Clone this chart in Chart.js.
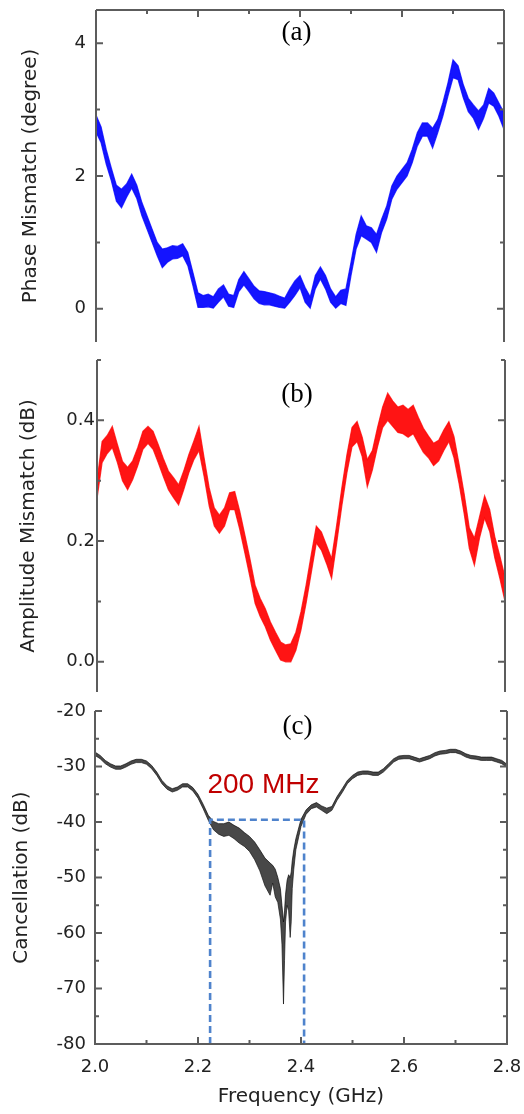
<!DOCTYPE html>
<html lang="en">
<head>
<meta charset="UTF-8">
<title>Phase / amplitude mismatch and cancellation</title>
<script src="https://cdn.jsdelivr.net/npm/chart.js"></script>
<style>
  body { margin: 0; background: #fff; }
  .stack { position: relative; width: 524px; height: 1114px; }
  .stack canvas { position: absolute; left: 0; }
  #phaseChart { top: 0; }
  #ampChart { top: 350px; }
  #cancelChart { top: 700px; }
</style>
</head>
<body>
<div class="stack">
  <canvas id="phaseChart" width="524" height="350"></canvas>
  <canvas id="ampChart" width="524" height="350"></canvas>
  <canvas id="cancelChart" width="524" height="414"></canvas>
</div>

<script>
// frequency grid (GHz) shared by panels (a) and (b)
const freq = [
  2.00, 2.01, 2.02, 2.03, 2.04, 2.05, 2.06, 2.07, 2.08, 2.09,
  2.10, 2.11, 2.12, 2.13, 2.14, 2.15, 2.16, 2.17, 2.18, 2.19,
  2.20, 2.21, 2.22, 2.23, 2.24, 2.25, 2.26, 2.27, 2.28, 2.29,
  2.30, 2.31, 2.32, 2.33, 2.34, 2.35, 2.36, 2.37, 2.38, 2.39,
  2.40, 2.41, 2.42, 2.43, 2.44, 2.45, 2.46, 2.47, 2.48, 2.49,
  2.50, 2.51, 2.52, 2.53, 2.54, 2.55, 2.56, 2.57, 2.58, 2.59,
  2.60, 2.61, 2.62, 2.63, 2.64, 2.65, 2.66, 2.67, 2.68, 2.69,
  2.70, 2.71, 2.72, 2.73, 2.74, 2.75, 2.76, 2.77, 2.78, 2.79,
  2.80
];

// (a) phase mismatch, upper / lower edge of the noisy trace (degree)
const phaseHi = [
  2.92, 2.74, 2.40, 2.12, 1.86, 1.80, 1.88, 2.03, 1.86, 1.60,
  1.40, 1.20, 1.00, 0.90, 0.92, 0.95, 0.94, 0.98, 0.85, 0.55,
  0.24, 0.20, 0.22, 0.18, 0.30, 0.36, 0.22, 0.20, 0.44, 0.56,
  0.45, 0.34, 0.27, 0.26, 0.24, 0.22, 0.19, 0.16, 0.30, 0.42,
  0.50, 0.32, 0.18, 0.50, 0.63, 0.50, 0.30, 0.18, 0.28, 0.30,
  0.70, 1.12, 1.40, 1.25, 1.22, 1.12, 1.35, 1.55, 1.85, 2.00,
  2.10, 2.20, 2.40, 2.65, 2.80, 2.80, 2.72, 2.85, 3.10, 3.40,
  3.75, 3.66, 3.38, 3.17, 3.07, 2.98, 3.07, 3.32, 3.25, 3.10,
  2.95
];
const phaseLo = [
  2.66, 2.50, 2.18, 1.93, 1.62, 1.52, 1.68, 1.82, 1.66, 1.40,
  1.20, 1.00, 0.80, 0.62, 0.70, 0.75, 0.76, 0.80, 0.65, 0.35,
  0.02, 0.02, 0.03, 0.01, 0.10, 0.18, 0.04, 0.02, 0.26, 0.36,
  0.26, 0.15, 0.08, 0.06, 0.06, 0.04, 0.02, 0.01, 0.10, 0.20,
  0.32, 0.10, 0.01, 0.30, 0.45, 0.30, 0.10, 0.01, 0.08, 0.05,
  0.50, 0.90, 1.10, 1.05, 1.00, 0.85, 1.15, 1.35, 1.65, 1.80,
  1.90, 2.00, 2.20, 2.45, 2.60, 2.60, 2.42, 2.65, 2.90, 3.20,
  3.48, 3.45, 3.18, 2.97, 2.87, 2.70, 2.87, 3.10, 3.05, 2.90,
  2.70
];

// (b) amplitude mismatch, upper / lower edge (dB)
const ampHi = [
  0.300, 0.365, 0.375, 0.390, 0.360, 0.332, 0.322, 0.333, 0.355, 0.382,
  0.390, 0.382, 0.360, 0.337, 0.316, 0.305, 0.293, 0.316, 0.343, 0.366,
  0.390, 0.338, 0.288, 0.255, 0.243, 0.255, 0.280, 0.282, 0.249, 0.210,
  0.170, 0.127, 0.105, 0.088, 0.066, 0.049, 0.033, 0.028, 0.030, 0.049,
  0.083, 0.127, 0.177, 0.225, 0.215, 0.193, 0.171, 0.227, 0.288, 0.343,
  0.388, 0.398, 0.372, 0.335, 0.350, 0.388, 0.422, 0.445, 0.432, 0.422,
  0.425, 0.418, 0.425, 0.405, 0.387, 0.374, 0.362, 0.367, 0.384, 0.398,
  0.373, 0.327, 0.278, 0.222, 0.205, 0.240, 0.275, 0.252, 0.207, 0.175,
  0.140
];
const ampLo = [
  0.270, 0.330, 0.345, 0.355, 0.330, 0.300, 0.285, 0.302, 0.325, 0.352,
  0.362, 0.352, 0.330, 0.307, 0.285, 0.272, 0.260, 0.285, 0.313, 0.335,
  0.350, 0.307, 0.258, 0.225, 0.213, 0.225, 0.252, 0.252, 0.219, 0.180,
  0.140, 0.097, 0.075, 0.058, 0.036, 0.019, 0.003, 0.000, 0.000, 0.019,
  0.053, 0.097, 0.147, 0.197, 0.185, 0.163, 0.138, 0.197, 0.258, 0.313,
  0.356, 0.365, 0.340, 0.290, 0.318, 0.356, 0.388, 0.400, 0.390, 0.380,
  0.378, 0.372, 0.378, 0.362, 0.347, 0.338, 0.325, 0.333, 0.350, 0.365,
  0.338, 0.295, 0.245, 0.188, 0.160, 0.205, 0.238, 0.216, 0.172, 0.138,
  0.100
];

// (c) cancellation, denser around the notch (GHz / dB)
const freqC = [
  2.00, 2.01, 2.02, 2.03, 2.04, 2.05, 2.06, 2.07, 2.08, 2.09,
  2.10, 2.11, 2.12, 2.13, 2.14, 2.15, 2.16, 2.17, 2.18, 2.19,
  2.20, 2.21, 2.22, 2.23, 2.24, 2.25, 2.26, 2.27, 2.28, 2.29,
  2.30, 2.31, 2.32, 2.33, 2.34,
  2.345, 2.35, 2.355, 2.36, 2.363, 2.366, 2.368, 2.370, 2.373, 2.376,
  2.379, 2.381, 2.383, 2.386, 2.39,
  2.40, 2.41, 2.42, 2.43, 2.44, 2.45, 2.46, 2.47, 2.48, 2.49,
  2.50, 2.51, 2.52, 2.53, 2.54, 2.55, 2.56, 2.57, 2.58, 2.59,
  2.60, 2.61, 2.62, 2.63, 2.64, 2.65, 2.66, 2.67, 2.68, 2.69,
  2.70, 2.71, 2.72, 2.73, 2.74, 2.75, 2.76, 2.77, 2.78, 2.79,
  2.80
];
const cancelHi = [
  -27.4, -28.0, -28.9, -29.5, -29.9, -29.9, -29.5, -29.0, -28.7, -28.7,
  -29.0, -29.8, -31.0, -32.5, -33.5, -34.0, -33.7, -33.1, -33.1, -33.8,
  -35.0, -36.8, -38.8, -39.9, -40.3, -40.3, -40.0, -40.6, -41.1, -41.9,
  -42.6, -43.6, -45.0, -46.5, -47.4,
  -47.8, -48.5, -50.0, -52.0, -55.0, -58.0, -56.0, -53.0, -50.5, -49.5,
  -50.0, -49.0, -47.0, -45.0, -43.0,
  -39.5, -37.8, -36.9, -36.5, -37.1, -37.5, -37.2, -35.4, -34.0, -32.5,
  -31.6, -31.0, -30.8, -30.8, -31.0, -31.0, -30.4, -29.5, -28.6, -28.1,
  -28.0, -28.0, -28.3, -28.6, -28.3, -28.0, -27.5, -27.2, -27.1, -26.9,
  -26.9, -27.2, -27.7, -28.0, -28.1, -28.3, -28.3, -28.3, -28.6, -28.9,
  -29.6
];
const cancelLo = [
  -28.0, -28.6, -29.5, -30.1, -30.5, -30.5, -30.1, -29.6, -29.3, -29.3,
  -29.6, -30.4, -31.6, -33.1, -34.1, -34.6, -34.3, -33.7, -33.7, -34.4,
  -35.7, -37.6, -39.7, -41.4, -42.2, -42.6, -42.4, -43.0, -43.8, -44.4,
  -45.3, -46.8, -48.8, -51.5, -53.2,
  -51.0, -53.5, -54.5, -57.5, -62.0, -72.8, -65.0, -58.0, -55.0, -56.0,
  -60.8, -58.0, -52.0, -48.5, -45.0,
  -40.8, -38.6, -37.6, -37.3, -37.9, -38.5, -37.9, -36.1, -34.7, -33.1,
  -32.2, -31.6, -31.4, -31.4, -31.6, -31.6, -31.0, -30.1, -29.2, -28.7,
  -28.6, -28.6, -28.9, -29.2, -28.9, -28.6, -28.1, -27.8, -27.7, -27.5,
  -27.5, -27.8, -28.3, -28.6, -28.7, -28.9, -28.9, -28.9, -29.2, -29.5,
  -30.2
];

// 200 MHz window marked on (c)
const bandEdges = [2.2235, 2.406];
const bandLevel = -39.6;

// tick values
const freqTicks = [2.0, 2.2, 2.4, 2.6, 2.8];
const freqMinor = [2.1, 2.3, 2.5, 2.7];
const phaseTicks = [0, 2, 4];
const phaseMinor = [1, 3];
const ampTicks = [0.0, 0.2, 0.4];
const ampMinor = [0.1, 0.3, 0.5];
const cancelTicks = [-80, -70, -60, -50, -40, -30, -20];
const cancelMinor = [-75, -65, -55, -45, -35, -25];

Chart.defaults.font.family = '"DejaVu Sans", Arial, sans-serif';
Chart.defaults.color = '#222';

const pts = (xs, ys) => xs.map((x, i) => ({ x: x, y: ys[i] }));

// box outline with inward tick marks, plus free text notes in data units
const panelFrame = {
  id: 'panelFrame',
  afterDatasetsDraw(chart, args, opts) {
    const { ctx, chartArea: a, scales } = chart;
    const xs = scales.x, ys = scales.y;
    const sides = opts.sides || [];
    ctx.save();
    ctx.strokeStyle = '#5c5c5c';
    ctx.lineWidth = 2;
    ctx.beginPath();
    if (sides.includes('top')) { ctx.moveTo(a.left, a.top); ctx.lineTo(a.right, a.top); }
    if (sides.includes('bottom')) { ctx.moveTo(a.left - 1, a.bottom); ctx.lineTo(a.right + 1, a.bottom); }
    if (sides.includes('left')) { ctx.moveTo(a.left, a.top); ctx.lineTo(a.left, a.bottom); }
    if (sides.includes('right')) { ctx.moveTo(a.right, a.top); ctx.lineTo(a.right, a.bottom); }

    const yTick = (v, len) => {
      const py = ys.getPixelForValue(v);
      ctx.moveTo(a.left, py); ctx.lineTo(a.left + len, py);
      ctx.moveTo(a.right, py); ctx.lineTo(a.right - len, py);
    };
    (opts.yMajor || []).forEach(v => yTick(v, 7));
    (opts.yMinor || []).forEach(v => yTick(v, 4));

    const xTick = (v, len) => {
      const px = xs.getPixelForValue(v);
      if (sides.includes('top')) { ctx.moveTo(px, a.top); ctx.lineTo(px, a.top + len); }
      if (sides.includes('bottom')) { ctx.moveTo(px, a.bottom); ctx.lineTo(px, a.bottom - len); }
    };
    (opts.xMajor || []).forEach(v => xTick(v, 7));
    (opts.xMinor || []).forEach(v => xTick(v, 4));
    ctx.stroke();

    (opts.notes || []).forEach(n => {
      ctx.font = n.font;
      ctx.fillStyle = n.color;
      ctx.textAlign = 'center';
      ctx.textBaseline = 'middle';
      ctx.fillText(n.text, xs.getPixelForValue(n.x), ys.getPixelForValue(n.y));
    });
    ctx.restore();
  }
};

function bandSets(hi, lo, xs, edge, fillCol, width) {
  return [
    { data: pts(xs, hi), borderColor: edge, backgroundColor: fillCol, borderWidth: width,
      pointRadius: 0, fill: '+1', order: 2 },
    { data: pts(xs, lo), borderColor: edge, backgroundColor: fillCol, borderWidth: width,
      pointRadius: 0, fill: false, order: 2 }
  ];
}

// fixed axis box so the plot areas line up; no extra room for end labels
function yAxis(cfg) {
  return {
    min: cfg.min, max: cfg.max,
    afterFit: s => { s.width = cfg.left; s.paddingTop = 0; s.paddingBottom = 0; },
    afterBuildTicks: s => { s.ticks = cfg.ticks.map(v => ({ value: v })); },
    grid: { display: false, drawTicks: false },
    border: { display: false },
    ticks: {
      padding: cfg.pad,
      color: '#222',
      font: { size: 18 },
      callback: v => cfg.digits ? v.toFixed(cfg.digits) : String(v)
    },
    title: {
      display: true, text: cfg.title, color: '#222',
      font: { size: 20 }, padding: { top: cfg.titlePad, bottom: 0 }
    }
  };
}

const common = {
  responsive: false,
  animation: false,
  events: [],
  plugins: { legend: { display: false }, tooltip: { enabled: false } }
};

// (a) phase mismatch
new Chart(document.getElementById('phaseChart'), {
  type: 'line',
  data: { datasets: bandSets(phaseHi, phaseLo, freq, 'rgba(0,0,255,0.75)', 'rgba(0,0,255,0.92)', 1.2) },
  options: Object.assign({}, common, {
    layout: { padding: { left: 0, right: 20, top: 10, bottom: 8 } },
    scales: {
      x: { type: 'linear', min: 2.0, max: 2.8, display: false },
      y: yAxis({ min: -0.5, max: 4.5, ticks: phaseTicks, left: 96, pad: 10, digits: 0,
                 title: 'Phase Mismatch (degree)', titlePad: 19 })
    },
    plugins: Object.assign({}, common.plugins, {
      panelFrame: {
        sides: ['top', 'left', 'right'],
        yMajor: phaseTicks, yMinor: phaseMinor,
        xMajor: freqTicks, xMinor: freqMinor,
        notes: [{ text: '(a)', x: 2.393, y: 4.15, font: '27px "Liberation Serif", "Times New Roman", serif', color: '#000' }]
      }
    })
  }),
  plugins: [panelFrame]
});

// (b) amplitude mismatch
new Chart(document.getElementById('ampChart'), {
  type: 'line',
  data: { datasets: bandSets(ampHi, ampLo, freq, 'rgba(255,0,0,0.75)', 'rgba(255,0,0,0.92)', 1.2) },
  options: Object.assign({}, common, {
    layout: { padding: { left: 0, right: 19, top: 10, bottom: 8 } },
    scales: {
      x: { type: 'linear', min: 2.0, max: 2.8, display: false },
      y: yAxis({ min: -0.05, max: 0.5, ticks: ampTicks, left: 97, pad: 2, digits: 1,
                 title: 'Amplitude Mismatch (dB)', titlePad: 17 })
    },
    plugins: Object.assign({}, common.plugins, {
      panelFrame: {
        sides: ['left', 'right'],
        yMajor: ampTicks, yMinor: ampMinor,
        notes: [{ text: '(b)', x: 2.392, y: 0.442, font: '27px "Liberation Serif", "Times New Roman", serif', color: '#000' }]
      }
    })
  }),
  plugins: [panelFrame]
});

// (c) cancellation with the 200 MHz window
const windowBox = {
  data: [
    { x: bandEdges[0], y: cancelTicks[0] },
    { x: bandEdges[0], y: bandLevel },
    { x: bandEdges[1], y: bandLevel },
    { x: bandEdges[1], y: cancelTicks[0] }
  ],
  borderColor: '#4f83cc', borderWidth: 2.6, borderDash: [7, 4],
  pointRadius: 0, fill: false, order: 0
};

new Chart(document.getElementById('cancelChart'), {
  type: 'line',
  data: { datasets: bandSets(cancelHi, cancelLo, freqC, 'rgba(0,0,0,0.8)', 'rgba(20,20,20,0.78)', 0.8).concat([windowBox]) },
  options: Object.assign({}, common, {
    layout: { padding: { left: 0, right: 17, top: 11, bottom: 0 } },
    scales: {
      x: {
        type: 'linear', min: 2.0, max: 2.8,
        afterFit: s => { s.height = 70; s.paddingLeft = 0; s.paddingRight = 0; },
        afterBuildTicks: s => { s.ticks = freqTicks.map(v => ({ value: v })); },
        grid: { display: false, drawTicks: false },
        border: { display: false },
        ticks: { padding: 13, color: '#222', font: { size: 18 }, maxRotation: 0, callback: v => v.toFixed(1) },
        title: { display: true, text: 'Frequency (GHz)', color: '#222', font: { size: 20 }, padding: { top: 0, bottom: 5 } }
      },
      y: yAxis({ min: -80, max: -20, ticks: cancelTicks, left: 95, pad: 9, digits: 0,
                 title: 'Cancellation (dB)', titlePad: 10 })
    },
    plugins: Object.assign({}, common.plugins, {
      panelFrame: {
        sides: ['left', 'right', 'bottom'],
        yMajor: cancelTicks, yMinor: cancelMinor,
        xMajor: freqTicks, xMinor: freqMinor,
        notes: [
          { text: '(c)', x: 2.393, y: -22.9, font: '27px "Liberation Serif", "Times New Roman", serif', color: '#000' },
          { text: '200 MHz', x: 2.327, y: -33.4, font: '28px "Liberation Sans", Arial, sans-serif', color: '#c00000' }
        ]
      }
    })
  }),
  plugins: [panelFrame]
});
</script>
</body>
</html>
